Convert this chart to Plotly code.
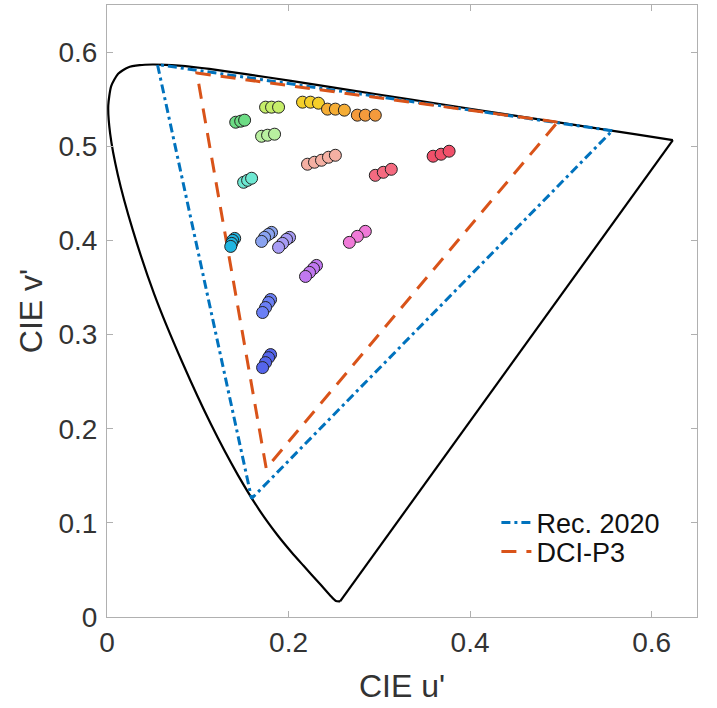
import plotly.graph_objects as go

# Spectral locus (CIE 1976 u'v'), 380 nm ... 700 nm
locus_u = [0.2568, 0.2522, 0.2461, 0.2347, 0.2161, 0.2033, 0.1877, 0.1690, 0.1441, 0.1147, 0.0828,
           0.0521, 0.0282, 0.0119, 0.0035, 0.0014, 0.0046, 0.0123, 0.0231, 0.0360, 0.0501, 0.0643,
           0.0792, 0.0953, 0.1127, 0.1531, 0.2026, 0.2623, 0.3315, 0.4035, 0.5203, 0.5830, 0.6234]
locus_v = [0.0166, 0.0169, 0.0226, 0.0350, 0.0549, 0.0688, 0.0871, 0.1119, 0.1510, 0.2044, 0.2708,
           0.3427, 0.4117, 0.4698, 0.5131, 0.5432, 0.5638, 0.5770, 0.5837, 0.5861, 0.5868, 0.5865,
           0.5856, 0.5841, 0.5821, 0.5766, 0.5694, 0.5604, 0.5501, 0.5393, 0.5219, 0.5125, 0.5065]

# Gamut triangles (R, G, B, R)
rec2020_u = [0.5566, 0.0556, 0.1593, 0.5566]
rec2020_v = [0.5165, 0.5868, 0.1258, 0.5165]
p3_u = [0.4964, 0.0990, 0.1754, 0.4964]
p3_v = [0.5256, 0.5777, 0.1579, 0.5256]

# Measured colour points, one cluster per colour
clusters = [
    ("#6cdc84", [0.1418, 0.1473, 0.1516], [0.5255, 0.5266, 0.5277]),
    ("#c6ee6a", [0.1747, 0.1813, 0.1890], [0.5415, 0.5415, 0.5415]),
    ("#f5cf2a", [0.2154, 0.2242, 0.2330], [0.5468, 0.5468, 0.5457]),
    ("#f5ad35", [0.2429, 0.2516, 0.2615], [0.5394, 0.5394, 0.5383]),
    ("#f59a3c", [0.2758, 0.2846, 0.2956], [0.5330, 0.5330, 0.5330]),
    ("#b9f0a0", [0.1703, 0.1769, 0.1846], [0.5106, 0.5117, 0.5128]),
    ("#f5b0a3", [0.2209, 0.2286, 0.2363, 0.2440, 0.2516], [0.4809, 0.4830, 0.4851, 0.4883, 0.4904]),
    ("#f0506a", [0.3593, 0.3681, 0.3769], [0.4894, 0.4915, 0.4947]),
    ("#f56a80", [0.2956, 0.3044, 0.3132], [0.4691, 0.4723, 0.4755]),
    ("#6ee8d2", [0.1505, 0.1549, 0.1593], [0.4617, 0.4638, 0.4660]),
    ("#1fb5e0", [0.1407, 0.1385, 0.1374, 0.1363], [0.4021, 0.4000, 0.3968, 0.3936]),
    ("#8aa3f0", [0.1813, 0.1780, 0.1736, 0.1703], [0.4085, 0.4064, 0.4032, 0.3989]),
    ("#a89cf5", [0.2011, 0.1978, 0.1934, 0.1890], [0.4032, 0.4011, 0.3968, 0.3926]),
    ("#c078f0", [0.2308, 0.2275, 0.2231, 0.2187], [0.3734, 0.3702, 0.3660, 0.3617]),
    ("#f07ad8", [0.2846, 0.2758, 0.2670], [0.4096, 0.4043, 0.3979]),
    ("#6b7ff5", [0.1802, 0.1780, 0.1747, 0.1714], [0.3372, 0.3340, 0.3287, 0.3234]),
    ("#5565ec", [0.1802, 0.1780, 0.1747, 0.1714], [0.2787, 0.2755, 0.2702, 0.2649]),
]

x_ticks = [0, 0.2, 0.4, 0.6]
x_tick_labels = ["0", "0.2", "0.4", "0.6"]
y_ticks = [0, 0.1, 0.2, 0.3, 0.4, 0.5, 0.6]
y_tick_labels = ["0", "0.1", "0.2", "0.3", "0.4", "0.5", "0.6"]

FONT = "Liberation Sans, Arial"

fig = go.Figure()
fig.add_trace(go.Scatter(x=locus_u, y=locus_v, mode="lines", showlegend=False,
                         line=dict(color="black", width=2.2, shape="spline", smoothing=0.6)))
fig.add_trace(go.Scatter(x=[locus_u[-1], locus_u[0]], y=[locus_v[-1], locus_v[0]], mode="lines",
                         showlegend=False, line=dict(color="black", width=2.2)))
fig.add_trace(go.Scatter(x=rec2020_u, y=rec2020_v, mode="lines", name="Rec. 2020", legend="legend",
                         line=dict(color="#0072BD", width=3, dash="9px,4px,3px,4px")))
fig.add_trace(go.Scatter(x=p3_u, y=p3_v, mode="lines", name="DCI-P3", legend="legend2",
                         line=dict(color="#D95319", width=3, dash="15px,10px")))
for col, us, vs in clusters:
    fig.add_trace(go.Scatter(x=us, y=vs, mode="markers", showlegend=False,
                             marker=dict(size=12, color=col, line=dict(color="#222222", width=1))))

axis_common = dict(showline=True, linecolor="#b0b0b0", linewidth=1, mirror="ticks",
                   ticks="inside", ticklen=6, tickcolor="#b0b0b0", showgrid=False, zeroline=False,
                   tickfont=dict(family=FONT, size=28, color="#333333"))
legend_common = dict(x=0.66, xanchor="left", yanchor="middle", bgcolor="rgba(0,0,0,0)",
                     font=dict(family=FONT, size=27, color="#111111"))
fig.update_layout(
    width=717, height=708,
    margin=dict(l=107, r=20, t=5, b=91),
    plot_bgcolor="white", paper_bgcolor="white",
    font=dict(family=FONT, color="#333333"),
    xaxis=dict(range=[0, 0.65], tickvals=x_ticks, ticktext=x_tick_labels,
               title=dict(text="CIE u'", font=dict(family=FONT, size=32, color="#333333"), standoff=18),
               **axis_common),
    yaxis=dict(range=[0, 0.65], tickvals=y_ticks, ticktext=y_tick_labels, ticklabelstandoff=3,
               title=dict(text="CIE v'", font=dict(family=FONT, size=32, color="#333333"), standoff=6),
               **axis_common),
    legend=dict(y=0.1536, **legend_common),
    legend2=dict(y=0.1062, **legend_common),
)
fig.write_html("out.html")
